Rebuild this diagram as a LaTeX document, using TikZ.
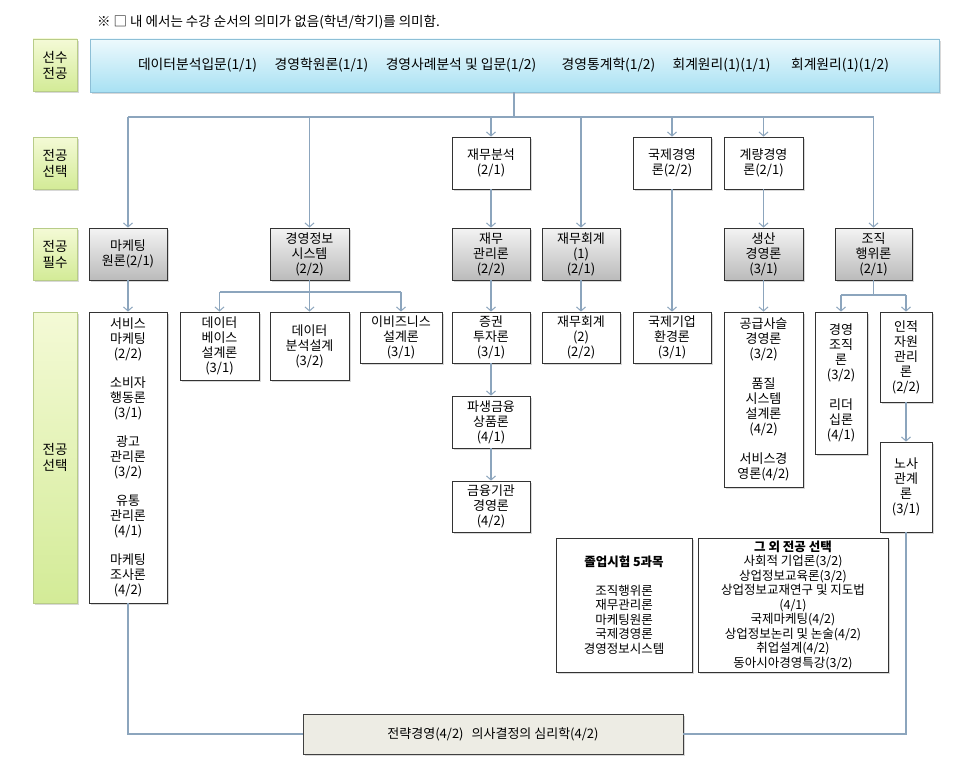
\documentclass[tikz,border=0pt]{standalone}
\usepackage{fontspec}
\setmainfont{Noto Sans CJK KR}
\usetikzlibrary{arrows.meta,shadows}
\definecolor{lnc}{HTML}{8CA5BD}
\definecolor{ltop}{HTML}{F4FAD6}
\definecolor{lbot}{HTML}{D3EB97}
\definecolor{lbrd}{HTML}{B8CC88}
\definecolor{btop}{HTML}{EDF9FD}
\definecolor{bbot}{HTML}{A8E1F3}
\definecolor{bbrd}{HTML}{8DBFD6}
\definecolor{gtop}{HTML}{F3F3F3}
\definecolor{gbot}{HTML}{BBBBBB}
\definecolor{fbg}{HTML}{EDECE4}
\tikzset{
  conn/.style={draw=lnc, line width=1.1pt},
  arr/.style={conn, -{Straight Barb[length=4pt,width=9pt,line width=1pt]}},
  shd/.style={drop shadow={shadow xshift=1.6pt,shadow yshift=-1.6pt,opacity=0.3}},
  bx/.style={draw=black!80, line width=0.8pt, inner sep=0pt, align=center,
    font=\fontsize{13}{15}\selectfont, shd},
  wbox/.style={bx, fill=white},
  gbox/.style={bx, top color=gtop, bottom color=gbot},
  lbox/.style={draw=lbrd, line width=0.8pt, inner sep=0pt, align=center,
    top color=ltop, bottom color=lbot, font=\fontsize{13.5}{16}\selectfont, shd},
  topbox/.style={draw=bbrd, line width=0.8pt, inner sep=0pt,
    top color=btop, bottom color=bbot, shd},
  toptxt/.style={inner sep=0pt, font=\fontsize{13.8}{15}\selectfont},
  fbox/.style={draw=black!75, line width=0.8pt, fill=fbg, inner sep=0pt,
    font=\fontsize{13}{15}\selectfont, shd},
  sbox/.style={bx, fill=white, font=\fontsize{12.5}{14.5}\selectfont},
}
\newcommand{\placebox}[7]{\node[#2, minimum width={#5pt-#3pt}, minimum height={#6pt-#4pt}] (#1) at ({(#3+#5)/2},{(#4+#6)/2}) {#7};}
\begin{document}
\begin{tikzpicture}[x=1pt,y=-1pt]
\fill[white] (0,0) rectangle (973,768);
\useasboundingbox (0,0) rectangle (973,768);

\node[anchor=west, inner sep=0pt, font=\fontsize{13.5}{15}\selectfont] (note) at (97,22)
  {※ □ 내 에서는 수강 순서의 의미가 없음(학년/학기)를 의미함.};

% row labels
\placebox{l1}{lbox}{33}{39}{77}{91}{선수\\전공}
\placebox{l2}{lbox}{33}{137}{77}{189}{전공\\선택}
\placebox{l3}{lbox}{33}{228}{77}{280}{전공\\필수}
\placebox{l4}{lbox}{33}{312}{77}{603}{전공\\선택}

% top bar
\placebox{top}{topbox}{90}{39}{939}{92}{}
\node[toptxt] (t1) at (197.5,65) {데이터분석입문(1/1)};
\node[toptxt] (t2) at (321.5,65) {경영학원론(1/1)};
\node[toptxt] (t3) at (461,65) {경영사례분석 및 입문(1/2)};
\node[toptxt] (t4) at (608.5,65) {경영통계학(1/2)};
\node[toptxt] (t5) at (721.5,65) {회계원리(1)(1/1)};
\node[toptxt] (t6) at (840,65) {회계원리(1)(1/2)};

% row 2
\placebox{fa}{wbox}{452}{137}{530}{189}{재무분석\\(2/1)}
\placebox{intl}{wbox}{633}{137}{711}{189}{국제경영\\론(2/2)}
\placebox{quant}{wbox}{724}{137}{803}{189}{계량경영\\론(2/1)}

% row 3
\placebox{mkt}{gbox}{89}{228}{167}{280}{마케팅\\원론(2/1)}
\placebox{mis}{gbox}{270}{228}{349}{280}{경영정보\\시스템\\(2/2)}
\placebox{fm}{gbox}{452}{228}{530}{280}{재무\\관리론\\(2/2)}
\placebox{acc1}{gbox}{542}{228}{620}{280}{재무회계\\(1)\\(2/1)}
\placebox{prod}{gbox}{724}{228}{803}{280}{생산\\경영론\\(3/1)}
\placebox{org}{gbox}{835}{228}{912}{280}{조직\\행위론\\(2/1)}

% row 4
\placebox{mktsel}{wbox}{89}{312}{167}{603}{서비스\\마케팅\\(2/2)\\[14pt]소비자\\행동론\\(3/1)\\[14pt]광고\\관리론\\(3/2)\\[14pt]유통\\관리론\\(4/1)\\[14pt]마케팅\\조사론\\(4/2)}
\placebox{db}{wbox}{180}{312}{259}{380}{데이터\\베이스\\설계론\\(3/1)}
\placebox{da}{wbox}{270}{312}{349}{380}{데이터\\분석설계\\(3/2)}
\placebox{eb}{wbox}{360}{312}{442}{363}{이비즈니스\\설계론\\(3/1)}
\placebox{sec}{wbox}{452}{312}{530}{363}{증권\\투자론\\(3/1)}
\placebox{deriv}{wbox}{452}{396}{530}{448}{파생금융\\상품론\\(4/1)}
\placebox{fin}{wbox}{452}{481}{530}{532}{금융기관\\경영론\\(4/2)}
\placebox{acc2}{wbox}{542}{312}{620}{363}{재무회계\\(2)\\(2/2)}
\placebox{ibe}{wbox}{633}{312}{711}{363}{국제기업\\환경론\\(3/1)}
\placebox{scm}{wbox}{724}{312}{803}{487}{공급사슬\\경영론\\(3/2)\\[15pt]품질\\시스템\\설계론\\(4/2)\\[15pt]서비스경\\영론(4/2)}
\placebox{mo}{wbox}{815}{312}{867}{454}{경영\\조직\\론\\(3/2)\\[15pt]리더\\십론\\(4/1)}
\placebox{hr}{wbox}{880}{312}{932}{402}{인적\\자원\\관리\\론\\(2/2)}
\placebox{lab}{wbox}{880}{442}{932}{532}{노사\\관계\\론\\(3/1)}

% bottom boxes
\placebox{exam}{sbox}{556}{538}{692}{672}{\textbf{졸업시험 5과목}\\[14pt]조직행위론\\재무관리론\\마케팅원론\\국제경영론\\경영정보시스템}
\placebox{other}{sbox}{698}{538}{888}{672}{\textbf{그 외 전공 선택}\\사회적 기업론(3/2)\\상업정보교육론(3/2)\\상업정보교재연구 및 지도법\\(4/1)\\국제마케팅(4/2)\\상업정보논리 및 논술(4/2)\\취업설계(4/2)\\동아시아경영특강(3/2)}
\placebox{final}{fbox}{303}{714}{683}{754}{전략경영(4/2)\hspace{8pt}의사결정의 심리학(4/2)}

% connectors
\coordinate (j0) at (514,117);
\draw[conn] (top.south -| j0) -- (j0);
\draw[conn] (mkt.north |- j0) -- (org.north |- j0);
\foreach \n in {mkt,mis,fa,acc1,intl,quant,org}
  \draw[arr] (\n.north |- j0) -- (\n.north);
\draw[arr] (fa.south) -- (fm.north);
\draw[arr] (quant.south) -- (prod.north);
\draw[arr] (intl.south) -- (ibe.north);
\draw[arr] (mkt.south) -- (mktsel.north);
\draw[arr] (fm.south) -- (sec.north);
\draw[arr] (sec.south) -- (deriv.north);
\draw[arr] (deriv.south) -- (fin.north);
\draw[arr] (acc1.south) -- (acc2.north);
\draw[arr] (prod.south) -- (scm.north);
\coordinate (j1) at (309.5,292);
\draw[conn] (mis.south) -- (j1);
\draw[conn] (db.north |- j1) -- (eb.north |- j1);
\foreach \n in {db,da,eb}
  \draw[arr] (\n.north |- j1) -- (\n.north);
\coordinate (j2) at (873.5,295);
\draw[conn] (org.south) -- (j2);
\draw[conn] (mo.north |- j2) -- (hr.north |- j2);
\foreach \n in {mo,hr}
  \draw[arr] (\n.north |- j2) -- (\n.north);
\draw[arr] (hr.south) -- (lab.north);
\draw[conn] (mktsel.south) |- (final.west);
\draw[conn] (lab.south) |- (final.east);
\end{tikzpicture}
\end{document}
